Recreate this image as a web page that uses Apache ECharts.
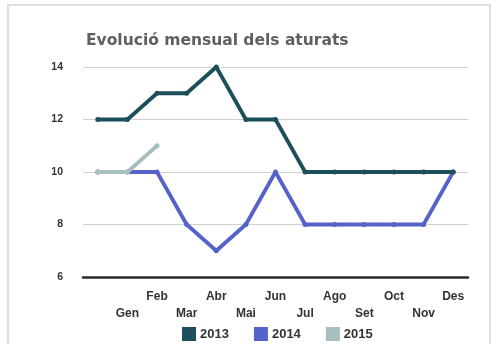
<!DOCTYPE html>
<html>
<head>
<meta charset="utf-8">
<script src="https://cdn.jsdelivr.net/npm/echarts@6/dist/echarts.min.js"></script>
<style>
  html, body { margin: 0; padding: 0; background: #ffffff; }
  #chart { width: 497px; height: 344px; }
</style>
</head>
<body>
<div id="chart"></div>
<script>
// Month categories (first slot has no label)
var months = ['', 'Gen', 'Feb', 'Mar', 'Abr', 'Mai', 'Jun', 'Jul', 'Ago', 'Set', 'Oct', 'Nov', 'Des'];

// Unemployed per month, by year
var values2013 = [12, 12, 13, 13, 14, 12, 12, 10, 10, 10, 10, 10, 10];
var values2014 = [10, 10, 10, 8, 7, 8, 10, 8, 8, 8, 8, 8, 10];
var values2015 = [10, 10, 11];

var yTicks = [6, 8, 10, 12, 14];

var colors = { '2013': '#1c4f59', '2014': '#5562c9', '2015': '#a8bfc0' };

function lineSeries(name, data, z) {
  return {
    name: name,
    type: 'line',
    data: data,
    z: z,
    symbol: 'circle',
    symbolSize: 5,
    showSymbol: true,
    itemStyle: { color: colors[name] },
    lineStyle: { color: colors[name], width: 3.8 },
    emphasis: { disabled: true }
  };
}

var chart = echarts.init(document.getElementById('chart'), null, { renderer: 'canvas' });
chart.setOption({
  animation: false,
  backgroundColor: '#ffffff',
  title: {
    text: 'Evolució mensual dels aturats',
    left: 81,
    top: 28,
    textStyle: {
      fontFamily: 'DejaVu Sans',
      fontWeight: 'bold',
      fontSize: 15.5,
      color: '#5f5f5f'
    }
  },
  graphic: [{
    type: 'rect',
    shape: { x: 8, y: 5, width: 482, height: 345 },
    style: { fill: 'none', stroke: '#dedede', lineWidth: 2 },
    silent: true,
    z: -1
  }],
  legend: {
    bottom: -2,
    left: 177,
    itemWidth: 14,
    itemHeight: 14,
    itemGap: 25,
    icon: 'rect',
    data: ['2013', '2014', '2015'],
    textStyle: {
      fontFamily: 'Liberation Sans',
      fontWeight: 'bold',
      fontSize: 13,
      color: '#333333',
      padding: [0, 0, 0, -1]
    }
  },
  grid: { left: 83, right: 29, top: 67, bottom: 67 },
  xAxis: {
    type: 'category',
    data: months,
    boundaryGap: true,
    axisLine: { show: true, lineStyle: { color: '#2a2a2a', width: 2.5 } },
    axisTick: { show: false },
    axisLabel: {
      interval: 0,
      fontFamily: 'Liberation Sans',
      fontWeight: 'bold',
      fontSize: 12,
      color: '#333333',
      margin: 11,
      formatter: function (v, i) {
        return i % 2 === 0 ? v : '\n' + v;
      },
      lineHeight: 17
    },
    splitLine: { show: false }
  },
  yAxis: {
    type: 'value',
    min: yTicks[0],
    max: yTicks[yTicks.length - 1],
    interval: 2,
    axisLine: { show: false },
    axisTick: { show: false },
    axisLabel: {
      fontFamily: 'Liberation Sans',
      fontWeight: 'bold',
      fontSize: 10.5,
      color: '#333333',
      margin: 20
    },
    splitLine: { lineStyle: { color: '#cfcfcf', width: 1.2 } }
  },
  series: [
    lineSeries('2013', values2013, 3),
    lineSeries('2014', values2014, 2),
    lineSeries('2015', values2015, 4)
  ]
});
</script>
</body>
</html>
